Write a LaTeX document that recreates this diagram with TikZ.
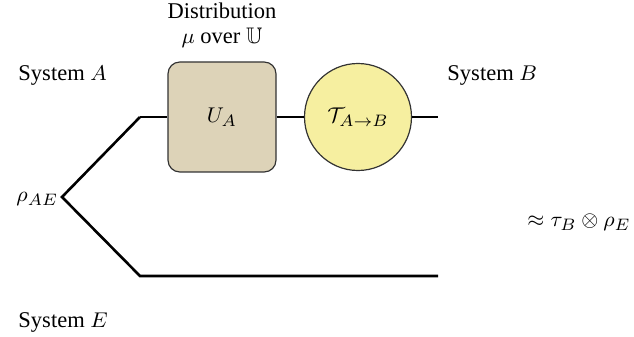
\documentclass[tikz,border=0pt]{standalone}
\usepackage{amssymb}
\usepackage{fontspec}
\setmainfont{Liberation Serif}
\begin{document}
\begin{tikzpicture}[x=0.422pt,y=-0.422pt,
  wire/.style={line width=1.1pt},
  lbl/.style={inner sep=0pt,font=\fontsize{9.5}{11}\selectfont},
  gate/.style={draw=black!80,line width=0.5pt,fill=tanbox,rounded corners=5pt,minimum width=108*0.422pt,minimum height=110*0.422pt,inner sep=0pt},
  chan/.style={circle,draw=black!80,line width=0.5pt,fill=yellowc,minimum size=107*0.422pt,inner sep=0pt}]
\definecolor{tanbox}{HTML}{DDD3B8}
\definecolor{yellowc}{HTML}{F6EFA0}
\useasboundingbox (0,0) rectangle (634,337);
% wires
\coordinate (src) at (62,197);
\coordinate (a0) at (140,117);
\coordinate (e0) at (140,276);
\coordinate (bout) at (438,117);
\coordinate (eout) at (438,276);
\node[gate] (U) at (222,117) {};
\node[chan] (T) at (358,117) {};
\draw[wire] (a0) -- (src) -- (e0) -- (eout);
\draw[wire] (a0) -- (U.west);
\draw[wire] (U.east) -- (T.west);
\draw[wire] (T.east) -- (bout);
\node[lbl] at (U.center) {$U_A$};
\node[lbl] at (T.center) {$\mathcal{T}_{A\to B}$};
\node[lbl] (dist) at (222,11) {Distribution};
\node[lbl] (dist2) at (222,38) {$\mu$ over $\mathbb{U}$};
\node[lbl,anchor=west] (sa) at (18,75) {System $A$};
\node[lbl,anchor=west] (sb) at (447,75) {System $B$};
\node[lbl,anchor=west] (se) at (18,322) {System $E$};
\node[lbl,anchor=west] (rho) at (16,199) {$\rho_{AE}$};
\node[lbl,anchor=west] (res) at (527,222) {$\approx\tau_B\otimes\rho_E$};
\end{tikzpicture}
\end{document}
